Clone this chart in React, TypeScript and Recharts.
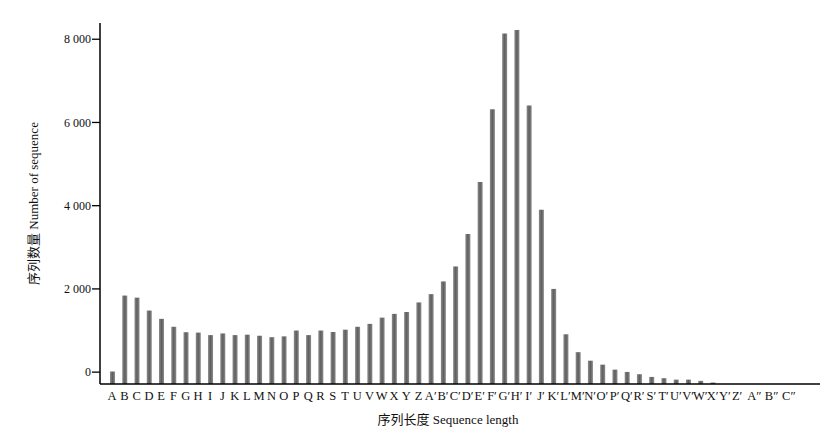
import { BarChart, Bar, XAxis, YAxis } from 'recharts'

// category labels along the x axis
const categories = [
  'A', 'B', 'C', 'D', 'E', 'F', 'G', 'H', 'I', 'J', 'K', 'L', 'M', 'N', 'O', 'P', 'Q', 'R', 'S', 'T', 'U', 'V', 'W', 'X', 'Y', 'Z',
  'A′', 'B′', 'C′', 'D′', 'E′', 'F′', 'G′', 'H′', 'I′', 'J′', 'K′', 'L′', 'M′', 'N′', 'O′', 'P′', 'Q′', 'R′', 'S′', 'T′', 'U′', 'V′', 'W′', 'X′', 'Y′', 'Z′',
  'A″', 'B″', 'C″',
]

// number of sequences per length
const counts: (number | null)[] = [
  15, 1840, 1790, 1480, 1280, 1090, 960, 950, 890, 930, 890, 900, 875, 840, 860, 1000, 890, 1000, 965, 1020, 1090, 1160, 1310, 1400, 1445, 1675,
  1875, 2180, 2540, 3320, 4570, 6320, 8140, 8220, 6410, 3900, 2000, 910, 480, 275, 180, 60, 5, -50, -115, -145, -180, -180, -210, -250, null, null,
  null, null, null,
]

const yTicks = [0, 2000, 4000, 6000, 8000]

const Y_MIN = -285
const Y_MAX = 8390

const rows = categories.map((name, i) => ({ name, count: counts[i] }))

const font = "'Liberation Serif', 'Noto Sans CJK SC', serif"

// the double-prime labels are spread a bit wider in the original
function XTick(props: any) {
  const { x, y, payload, index } = props
  const shift = Math.max(0, index - 51) * 5
  return (
    <text x={x + shift} y={y} dy="0.71em" textAnchor="middle" fontSize={12.5} fill="#111" fontFamily={font}>
      {payload.value}
    </text>
  )
}

export default function App() {
  return (
    <div style={{ position: 'absolute', left: 0, top: 0, background: '#fff' }}>
      <BarChart width={836} height={435} data={rows} margin={{ top: 23, right: 16, bottom: 0, left: 0 }}>
        <defs>
          <linearGradient id="barFill" x1="0" y1="0" x2="1" y2="0">
            <stop offset="0%" stopColor="#8c8c8c" />
            <stop offset="50%" stopColor="#5e5e5e" />
            <stop offset="100%" stopColor="#8c8c8c" />
          </linearGradient>
        </defs>
        <XAxis
          dataKey="name"
          interval={0}
          height={51}
          padding={{ left: 6, right: 40 }}
          tickLine={false}
          tickSize={6}
          tickMargin={1}
          stroke="#000"
          axisLine={{ stroke: '#000', strokeWidth: 1.5 }}
          tick={<XTick />}
          label={{ value: '序列长度 Sequence length', position: 'insideBottom', offset: 11, dx: -12, fontSize: 13, fill: '#111', fontFamily: font, style: { textAnchor: 'middle' } }}
        />
        <YAxis
          type="number"
          width={100}
          domain={[Y_MIN, Y_MAX]}
          allowDataOverflow
          ticks={yTicks}
          tickFormatter={(v: number) => (v >= 1000 ? `${Math.floor(v / 1000)} ${String(v % 1000).padStart(3, '0')}` : String(v))}
          tickSize={8}
          tickMargin={1}
          stroke="#000"
          tickLine={{ stroke: '#000', strokeWidth: 1.3 }}
          axisLine={{ stroke: '#000', strokeWidth: 1.5 }}
          tick={{ fontSize: 12, fill: '#111', fontFamily: font }}
          label={{ value: '序列数量 Number of sequence', angle: -90, position: 'insideLeft', offset: 33, fontSize: 13, fill: '#111', fontFamily: font, style: { textAnchor: 'middle' } }}
        />
        <Bar
          dataKey={(d: { count: number | null }) => (d.count == null ? null : [Y_MIN, d.count])}
          fill="url(#barFill)"
          barSize={5}
          isAnimationActive={false}
        />
      </BarChart>
    </div>
  )
}
